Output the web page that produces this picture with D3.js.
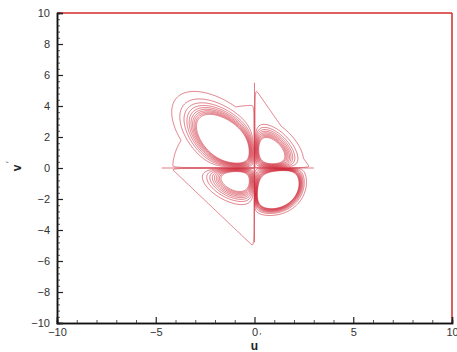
<!DOCTYPE html>
<html><head><meta charset="utf-8">
<script src="https://cdn.jsdelivr.net/npm/d3@7"></script>
<style>
html,body{margin:0;padding:0;background:#fff;}
svg{display:block;font-family:"Liberation Sans",Arial,Helvetica,sans-serif;}
</style></head>
<body><svg id="c" width="457" height="352"></svg>
<script>
// ---- data ----
const xTicks = [-10, -5, 0, 5, 10];
const yTicks = [-10, -8, -6, -4, -2, 0, 2, 4, 6, 8, 10];
const xLabel = "u";
const yLabel = "v";
const primeMark = "′";
// contour levels of |u'v'|·P(u',v')
const levels = [0.012, 0.04, 0.07, 0.10, 0.13, 0.16, 0.19, 0.22, 0.25, 0.28];
// quadrants Q1, Q2, Q3, Q4
const quadSignU = [1, -1, -1, 1];
const quadSignV = [1, 1, -1, -1];
// core lobe of each quadrant
const coreScaleU = [0.78, 1.40, 0.85, 1.28];
const coreScaleV = [1.00, 1.65, 0.76, 1.49];
const coreSkew   = [0.3, -0.68, 0.3, -0.2];
const corePower  = [1.3, 1.0, 1.0, 3.0];
const coreAmp    = [0.62, 1.30, 0.55, 1.84];
// low-probability outer region of each quadrant
const tailReachU = [3.0, 4.4, 4.5, 0];
const tailReachV = [5.5, 4.3, 5.45, 0];
const tailNorm   = [1, 2, 1, 1];
const tailAmp    = [0.024, 0.024, 0.024, 0];
// zero-level contour along the axes
const zeroU = [-4.7, 3.0];   // along v' = 0
const zeroV = [-4.8, 5.5];   // along u' = 0

// ---- layout ----
const svg = d3.select("#c");
const x = d3.scaleLinear([-10, 10], [57, 452]);
const y = d3.scaleLinear([-10, 10], [323, 13]);

// ---- field ----
const g0 = -7, step = 0.035, n = 401, eps = 0.03;
function field(u, v) {
  for (let q = 0; q < 4; q++) {
    if (Math.sign(u) !== quadSignU[q] || Math.sign(v) !== quadSignV[q]) continue;
    const au = Math.abs(u), av = Math.abs(v);
    const X = au / coreScaleU[q], Y = av / coreScaleV[q], k = coreSkew[q], p = corePower[q];
    const Q = (X * X + Y * Y + 2 * k * X * Y) / (2 * (1 + k));
    const core = coreAmp[q] * Math.exp(1 / p) * X * Y * Math.exp(-Math.pow(Q, p) / p);
    let tail = 0;
    if (tailAmp[q] > 0) {
      const nn = tailNorm[q];
      const S = Math.pow(Math.pow(au / tailReachU[q], nn) + Math.pow(av / tailReachV[q], nn), 1 / nn);
      tail = tailAmp[q] * (1 - Math.exp(-au / eps)) * (1 - Math.exp(-av / eps)) * Math.exp(-Math.pow(S, 6));
    }
    return Math.max(core, tail);
  }
  return 0;
}
const values = new Float64Array(n * n);
for (let j = 0; j < n; j++) for (let i = 0; i < n; i++) {
  values[j * n + i] = field(g0 + i * step, g0 + j * step);
}
const contours = d3.contours().size([n, n]).thresholds(levels)(values);
const proj = d3.geoTransform({
  point(px, py) { this.stream.point(x(g0 + (px - 0.5) * step), y(g0 + (py - 0.5) * step)); }
});
const path = d3.geoPath(proj);

svg.append("defs").append("clipPath").attr("id", "clip")
  .append("rect").attr("x", 57).attr("y", 13).attr("width", 395).attr("height", 310);

const lineColor = "#cc2233";
const gc = svg.append("g").attr("clip-path", "url(#clip)");
gc.selectAll("path.c").data(contours).join("path").attr("class", "c")
  .attr("d", path).attr("fill", "none")
  .attr("stroke", lineColor).attr("stroke-width", 0.8).attr("stroke-opacity", 0.75);
gc.append("line").attr("x1", x(zeroU[0])).attr("x2", x(zeroU[1])).attr("y1", y(0)).attr("y2", y(0))
  .attr("stroke", lineColor).attr("stroke-width", 0.8).attr("stroke-opacity", 0.75);
gc.append("line").attr("x1", x(0)).attr("x2", x(0)).attr("y1", y(zeroV[0])).attr("y2", y(zeroV[1]))
  .attr("stroke", lineColor).attr("stroke-width", 0.8).attr("stroke-opacity", 0.75);

// ---- frame ----
svg.append("line").attr("x1", 57).attr("x2", 452).attr("y1", 13).attr("y2", 13).attr("stroke", "#d42a2a").attr("stroke-width", 1.5);
svg.append("line").attr("x1", 452).attr("x2", 452).attr("y1", 13).attr("y2", 323).attr("stroke", "#d42a2a").attr("stroke-width", 1.5);

// ---- axes ----
const minorX = d3.range(-10, 10.01, 1).filter(d => !xTicks.includes(d));
const minorY = d3.range(-10, 10.01, 0.4).map(d => +d.toFixed(1)).filter(d => !yTicks.includes(d));
const ax = svg.append("g").attr("transform", "translate(0,323)");
ax.call(d3.axisBottom(x).tickValues(minorX).tickSize(-3).tickFormat(""));
ax.call(g => g.selectAll(".tick line").attr("stroke", "#555"));
const ax2 = svg.append("g").attr("transform", "translate(0,323)");
ax2.call(d3.axisBottom(x).tickValues(xTicks).tickSize(-6).tickPadding(6).tickFormat(d3.format("d")));
const ay = svg.append("g").attr("transform", "translate(57,0)");
ay.call(d3.axisLeft(y).tickValues(minorY).tickSize(-3).tickFormat(""));
ay.call(g => g.selectAll(".tick line").attr("stroke", "#555"));
const ay2 = svg.append("g").attr("transform", "translate(57,0)");
ay2.call(d3.axisLeft(y).tickValues(yTicks).tickSize(-6).tickPadding(7).tickFormat(d3.format("d")));
[ax, ax2, ay, ay2].forEach(g => {
  g.select(".domain").attr("stroke", "#111").attr("stroke-width", 1.5);
  g.selectAll("text").attr("font-size", 11).attr("fill", "#333")
    .attr("font-family", '"Liberation Sans",Arial,sans-serif');
});
ax2.selectAll(".tick line").attr("stroke", "#222").attr("stroke-width", 1.2);
ay2.selectAll(".tick line").attr("stroke", "#222").attr("stroke-width", 1.2);
ax2.selectAll("text").attr("dy", "0.6em");

// ---- axis titles ----
svg.append("text").attr("x", x(0)).attr("y", 350).attr("text-anchor", "middle")
  .attr("font-size", 12).attr("font-weight", "bold").attr("fill", "#222").text(xLabel);
svg.append("text").attr("x", x(0) + 5).attr("y", 339).attr("font-size", 9).attr("fill", "#444").text(primeMark);
svg.append("text").attr("transform", `translate(21,${y(0)}) rotate(-90)`).attr("text-anchor", "middle")
  .attr("font-size", 12).attr("font-weight", "bold").attr("fill", "#222").text(yLabel);
svg.append("text").attr("transform", `translate(12,${y(0) - 5}) rotate(-90)`)
  .attr("font-size", 9).attr("fill", "#444").text(primeMark);
</script></body></html>
